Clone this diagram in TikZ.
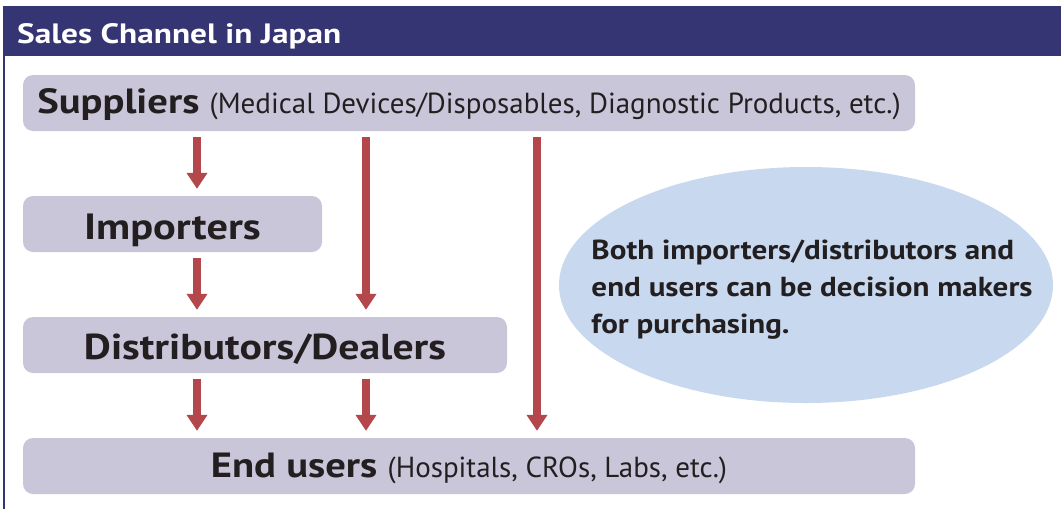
\documentclass[tikz,border=0pt]{standalone}
\usepackage{fontspec}
\setmainfont{PT Sans}
\newfontfamily\bigfont{PT Sans}[FakeStretch=1.16]
\newfontfamily\titlefont{PT Sans}[FakeStretch=1.19]
\newfontfamily\notefont{PT Sans}[FakeStretch=1.13]
\usetikzlibrary{arrows.meta,shapes.geometric}
\definecolor{hdr}{HTML}{363574}
\definecolor{boxfill}{HTML}{CAC6DA}
\definecolor{arrcol}{HTML}{B3474B}
\definecolor{ellfill}{HTML}{C7D8EF}
\definecolor{txt}{HTML}{231F20}
\tikzset{
  stagebox/.style={fill=boxfill, rounded corners=10pt, inner sep=0pt, minimum height=56pt, text=txt},
  arr/.style={draw=arrcol, line width=8pt, -{Triangle[width=20pt,length=16pt]}, shorten <=6pt, shorten >=7pt},
  big/.style={font=\bigfont\bfseries\fontsize{#1}{40}\selectfont},
  big/.default=35,
}
\newcommand{\paren}[1]{{\normalfont\mdseries\fontsize{29}{32}\selectfont #1}}
\begin{document}
\begin{tikzpicture}[x=1pt,y=-1pt]
\useasboundingbox (0,0) rectangle (1061,509);
% header
\fill[hdr] (3,6) rectangle (1061,56);
\draw[hdr, line width=2pt] (4,56) -- (4,509);
\node[anchor=base west, text=white, inner sep=0pt, font=\titlefont\bfseries\fontsize{28}{30}\selectfont] (title) at (17,43) {Sales Channel in Japan};
% boxes
\node[stagebox, minimum width=892pt, big, text height=28pt, text depth=8pt] (sup) at (469,103) {Suppliers \paren{(Medical Devices/Disposables, Diagnostic Products, etc.)}};
\node[stagebox, minimum width=299pt, big=36.5, text height=30pt, text depth=0pt] (imp) at (172.5,224) {Importers};
\node[stagebox, minimum width=484pt, big=36, text height=28pt, text depth=0pt] (dis) at (265,345) {Distributors/Dealers};
\node[stagebox, minimum width=892pt, big, text height=28pt, text depth=6pt] (end) at (469,466) {End users \paren{(Hospitals, CROs, Labs, etc.)}};
% ellipse
\node[ellipse, fill=ellfill, minimum width=494pt, minimum height=236pt, inner sep=0pt] (ell) at (806,285) {};
\node[align=left, text=txt, inner sep=0pt, font=\notefont\bfseries\fontsize{27.5}{37}\selectfont] (note) at (812,290) {Both importers/distributors and\\end users can be decision makers\\for purchasing.};
% arrows
\coordinate (xa) at (197,0);
\coordinate (xb) at (366,0);
\coordinate (xc) at (537,0);
\draw[arr] (sup.south -| xa) -- (imp.north -| xa);
\draw[arr] (imp.south -| xa) -- (dis.north -| xa);
\draw[arr] (dis.south -| xa) -- (end.north -| xa);
\draw[arr] (sup.south -| xb) -- (dis.north -| xb);
\draw[arr] (dis.south -| xb) -- (end.north -| xb);
\draw[arr] (sup.south -| xc) -- (end.north -| xc);
\end{tikzpicture}
\end{document}
